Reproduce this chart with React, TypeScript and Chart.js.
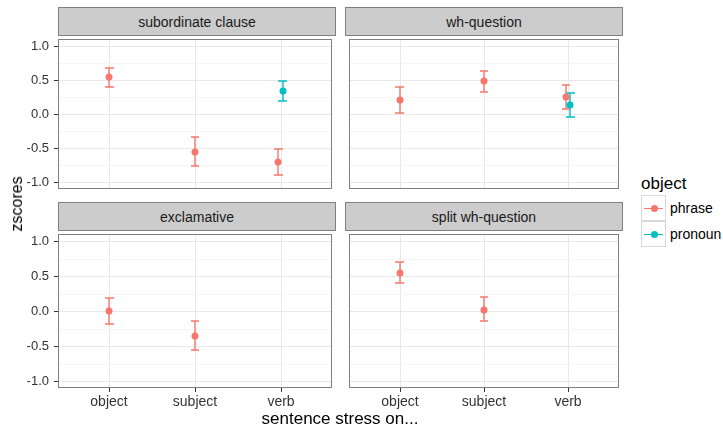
import React, { useEffect, useRef } from 'react';
import { Chart, registerables } from 'chart.js';

Chart.register(...registerables);

// ---------- data ----------
const categories = ['object', 'subject', 'verb'];
const categoryPositions = [1, 2, 3];
const panelTitles = ['subordinate clause', 'wh-question', 'exclamative', 'split wh-question'];
const seriesNames = ['phrase', 'pronoun'];
const seriesColors = ['#F8766D', '#00BFC4'];
const yTicks = [-1, -0.75, -0.5, -0.25, 0, 0.25, 0.5, 0.75, 1];
const yLabelTicks = [-1, -0.5, 0, 0.5, 1];

// per panel, per category (object, subject, verb)
const phraseMean = [
  [0.54, -0.55, -0.71],
  [0.2, 0.48, 0.25],
  [0.0, -0.35, null],
  [0.55, 0.02, null],
];
const phraseLow = [
  [0.4, -0.76, -0.9],
  [0.02, 0.33, 0.08],
  [-0.19, -0.55, null],
  [0.4, -0.15, null],
];
const phraseHigh = [
  [0.67, -0.33, -0.52],
  [0.39, 0.63, 0.43],
  [0.19, -0.14, null],
  [0.7, 0.2, null],
];
const pronounMean = [
  [null, null, 0.34],
  [null, null, 0.13],
  [null, null, null],
  [null, null, null],
];
const pronounLow = [
  [null, null, 0.19],
  [null, null, -0.04],
  [null, null, null],
  [null, null, null],
];
const pronounHigh = [
  [null, null, 0.49],
  [null, null, 0.31],
  [null, null, null],
  [null, null, null],
];

// ---------- layout ----------
const FONT = '"Liberation Sans", Arial, Helvetica, sans-serif';
const PANEL_W = 278;
const PANEL_H = 158;
const COL_X = [58, 345];
const ROW_Y = [35, 230];
const STRIP_H = 28;
const Y_AXIS_W = 50;
const X_AXIS_H = 26;
const DODGE = 0.025;
const CAP = 0.05;
const TICK_TEXT = '#333333';

const isMajor = (v: number) => Math.abs(v * 2 - Math.round(v * 2)) < 1e-9;

const borderPlugin = {
  id: 'panelBorder',
  afterDraw(chart: any) {
    const { ctx, chartArea } = chart;
    ctx.save();
    ctx.strokeStyle = '#7F7F7F';
    ctx.lineWidth = 1;
    ctx.strokeRect(
      Math.round(chartArea.left) + 0.5,
      Math.round(chartArea.top) + 0.5,
      Math.round(chartArea.right - chartArea.left) - 1,
      Math.round(chartArea.bottom - chartArea.top) - 1
    );
    ctx.restore();
  },
};

function errorBarData(mean: (number | null)[], low: (number | null)[], high: (number | null)[], offsets: number[]) {
  const out: any[] = [];
  mean.forEach((m, i) => {
    if (m === null) return;
    const x = categoryPositions[i] + offsets[i];
    const lo = low[i] as number;
    const hi = high[i] as number;
    out.push({ x: x - CAP, y: hi }, { x: x + CAP, y: hi }, { x, y: null });
    out.push({ x, y: hi }, { x, y: lo }, { x, y: null });
    out.push({ x: x - CAP, y: lo }, { x: x + CAP, y: lo }, { x, y: null });
  });
  return out;
}

function pointData(mean: (number | null)[], offsets: number[]) {
  const out: any[] = [];
  mean.forEach((m, i) => {
    if (m === null) return;
    out.push({ x: categoryPositions[i] + offsets[i], y: m });
  });
  return out;
}

function Panel({ idx }: { idx: number }) {
  const ref = useRef<HTMLCanvasElement | null>(null);
  const col = idx % 2;
  const row = Math.floor(idx / 2);
  const showY = col === 0;
  const showX = row === 1;
  const axW = showY ? Y_AXIS_W : 0;
  const axH = showX ? X_AXIS_H : 0;

  useEffect(() => {
    if (!ref.current) return;
    const pm = phraseMean[idx];
    const qm = pronounMean[idx];
    const both = pm.map((v, i) => v !== null && qm[i] !== null);
    const offP = both.map((b) => (b ? -DODGE : 0));
    const offQ = both.map((b) => (b ? DODGE : 0));

    const datasets: any[] = [
      {
        label: seriesNames[0] + ' points',
        data: pointData(pm, offP),
        pointRadius: 3.5,
        pointBackgroundColor: seriesColors[0],
        pointBorderWidth: 0,
        showLine: false,
      },
      {
        label: seriesNames[1] + ' points',
        data: pointData(qm, offQ),
        pointRadius: 3.5,
        pointBackgroundColor: seriesColors[1],
        pointBorderWidth: 0,
        showLine: false,
      },
      {
        label: seriesNames[0] + ' errors',
        data: errorBarData(pm, phraseLow[idx], phraseHigh[idx], offP),
        showLine: true,
        spanGaps: false,
        borderColor: seriesColors[0],
        borderWidth: 1.4,
        pointRadius: 0,
        pointHitRadius: 0,
      },
      {
        label: seriesNames[1] + ' errors',
        data: errorBarData(qm, pronounLow[idx], pronounHigh[idx], offQ),
        showLine: true,
        spanGaps: false,
        borderColor: seriesColors[1],
        borderWidth: 1.4,
        pointRadius: 0,
        pointHitRadius: 0,
      },
    ];

    const chart = new Chart(ref.current, {
      type: 'scatter',
      data: { datasets },
      plugins: [borderPlugin],
      options: {
        animation: false,
        responsive: false,
        devicePixelRatio: 1,
        layout: { padding: 0 },
        plugins: { legend: { display: false }, tooltip: { enabled: false } },
        scales: {
          x: {
            type: 'linear',
            min: 0.4,
            max: 3.6,
            alignToPixels: true,
            afterBuildTicks: (s: any) => {
              s.ticks = categoryPositions.map((v) => ({ value: v }));
            },
            afterFit: (s: any) => {
              s.height = axH;
              s.paddingLeft = 0;
              s.paddingRight = 0;
              s.paddingTop = 0;
              s.paddingBottom = 0;
            },
            ticks: {
              display: showX,
              autoSkip: false,
              maxRotation: 0,
              padding: 2,
              color: TICK_TEXT,
              font: { family: FONT, size: 14 },
              callback: (_v: any, i: number) => categories[i],
            },
            grid: {
              color: '#E8E8E8',
              lineWidth: 1,
              drawTicks: showX,
              tickLength: 4,
              tickColor: '#333333',
            },
            border: { display: false },
          },
          y: {
            type: 'linear',
            min: -1.1,
            max: 1.1,
            alignToPixels: true,
            afterBuildTicks: (s: any) => {
              s.ticks = yTicks.map((v) => ({ value: v }));
            },
            afterFit: (s: any) => {
              s.width = axW;
              s.paddingLeft = 0;
              s.paddingRight = 0;
              s.paddingTop = 0;
              s.paddingBottom = 0;
            },
            ticks: {
              display: showY,
              autoSkip: false,
              padding: 5,
              color: TICK_TEXT,
              font: { family: FONT, size: 13 },
              callback: (v: any) => (yLabelTicks.includes(v) ? Number(v).toFixed(1) : ''),
            },
            grid: {
              color: (c: any) => (isMajor(c.tick.value) ? '#E8E8E8' : '#F5F5F5'),
              lineWidth: 1,
              drawTicks: showY,
              tickLength: 4,
              tickColor: (c: any) => (isMajor(c.tick.value) ? '#333333' : 'rgba(0,0,0,0)'),
            },
            border: { display: false },
          },
        },
      },
    } as any);
    return () => chart.destroy();
  }, [idx]);

  return (
    <>
      <div
        style={{
          position: 'absolute',
          left: COL_X[col],
          top: ROW_Y[row] - STRIP_H,
          width: PANEL_W,
          height: STRIP_H + 1,
          boxSizing: 'border-box',
          background: '#CCCCCC',
          border: '1px solid #7F7F7F',
          display: 'flex',
          alignItems: 'center',
          justifyContent: 'center',
          fontFamily: FONT,
          fontSize: 14,
          color: '#1A1A1A',
        }}
      >
        {panelTitles[idx]}
      </div>
      <canvas
        ref={ref}
        width={PANEL_W + axW}
        height={PANEL_H + axH}
        style={{
          position: 'absolute',
          left: COL_X[col] - axW,
          top: ROW_Y[row],
          width: PANEL_W + axW,
          height: PANEL_H + axH,
        }}
      />
    </>
  );
}

function LegendKey({ color }: { color: string }) {
  return (
    <div
      style={{
        position: 'relative',
        width: 25,
        height: 26,
        boxSizing: 'border-box',
        border: '1px solid #D9D9D9',
        background: '#FFFFFF',
      }}
    >
      <div style={{ position: 'absolute', left: 2, right: 2, top: 11.5, height: 1.4, background: color }} />
      <div
        style={{
          position: 'absolute',
          left: 8.5,
          top: 8.5,
          width: 7,
          height: 7,
          borderRadius: '50%',
          background: color,
        }}
      />
    </div>
  );
}

export default function App() {
  return (
    <div
      style={{
        position: 'fixed',
        left: 0,
        top: 0,
        width: 723,
        height: 427,
        background: '#FFFFFF',
        overflow: 'hidden',
        fontFamily: FONT,
      }}
    >
      {[0, 1, 2, 3].map((i) => (
        <Panel key={i} idx={i} />
      ))}
      {/* y axis title */}
      <div
        style={{
          position: 'absolute',
          left: 17,
          top: 204,
          transform: 'translate(-50%, -50%) rotate(-90deg)',
          fontSize: 16,
          color: '#000',
          whiteSpace: 'nowrap',
        }}
      >
        zscores
      </div>
      {/* x axis title */}
      <div
        style={{
          position: 'absolute',
          left: 340,
          top: 419,
          transform: 'translate(-50%, -50%)',
          fontSize: 17,
          color: '#000',
          whiteSpace: 'nowrap',
        }}
      >
        sentence stress on...
      </div>
      {/* legend */}
      <div style={{ position: 'absolute', left: 641, top: 174, fontSize: 17, color: '#000', lineHeight: '20px' }}>
        object
      </div>
      {seriesNames.map((name, i) => (
        <div
          key={name}
          style={{
            position: 'absolute',
            left: 641,
            top: 195 + i * 26,
            display: 'flex',
            alignItems: 'center',
          }}
        >
          <LegendKey color={seriesColors[i]} />
          <span style={{ marginLeft: 4, fontSize: 14, color: '#000' }}>{name}</span>
        </div>
      ))}
    </div>
  );
}
